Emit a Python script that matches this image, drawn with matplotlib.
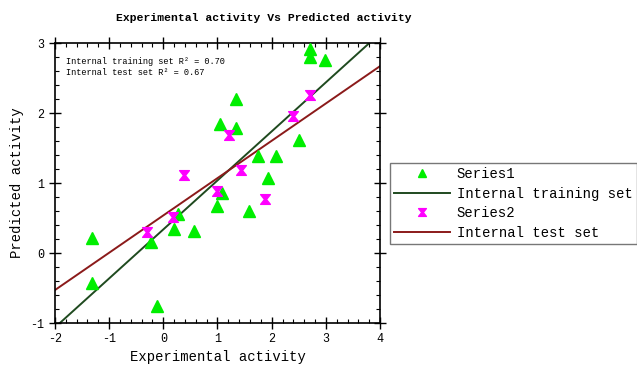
import matplotlib
matplotlib.use("Agg")
import matplotlib.pyplot as plt
import numpy as np
from matplotlib.path import Path
from matplotlib.ticker import MultipleLocator

# Data
series1_x = [2.71, 2.71, 2.98, 1.335, 1.05, 1.35, 2.51, 1.74, 2.08, 1.94,
             1.08, 0.99, 1.59, 0.28, 0.19, 0.57, -0.22, -1.32, -1.32, -0.12]
series1_y = [2.91, 2.80, 2.76, 2.20, 1.84, 1.79, 1.61, 1.38, 1.38, 1.07,
             0.86, 0.67, 0.60, 0.56, 0.35, 0.32, 0.16, 0.21, -0.43, -0.75]
series2_x = [2.70, 2.39, 1.21, 1.43, 0.39, 1.00, 1.88, 0.17, -0.30]
series2_y = [2.26, 1.96, 1.68, 1.19, 1.12, 0.89, 0.77, 0.51, 0.30]
train_fit = [0.700, 0.337]   # slope, intercept
test_fit = [0.533, 0.537]
line_x = [-2, 4]
r2_train = "0.70"
r2_test = "0.67"

plt.rcParams['font.family'] = ['Liberation Mono', 'DejaVu Sans Mono']
plt.rcParams['axes.unicode_minus'] = False

fig = plt.figure(figsize=(6.37, 3.70), dpi=100)
ax = fig.add_axes([55/637, 1-323/370, (380-55)/637, (323-43)/370])

hourglass = Path([(-1, 1), (1, 1), (0.2, 0), (1, -1), (-1, -1), (-0.2, 0), (-1, 1)],
                 [Path.MOVETO] + [Path.LINETO]*5 + [Path.CLOSEPOLY])

lx = np.array(line_x, dtype=float)
ax.plot(series1_x, series1_y, linestyle='none', marker='^', color='#00ee00',
        markersize=8, label='Series1', zorder=3)
ax.plot(lx, train_fit[0]*lx + train_fit[1], color='#1f4a1f', lw=1.4,
        label='Internal training set', zorder=2)
ax.plot(series2_x, series2_y, linestyle='none', marker=hourglass, color='#ff00ff',
        markersize=7, label='Series2', zorder=3)
ax.plot(lx, test_fit[0]*lx + test_fit[1], color='#8b1a1a', lw=1.4,
        label='Internal test set', zorder=2)

ax.set_xlim(-2, 4)
ax.set_ylim(-1, 3)
ax.xaxis.set_major_locator(MultipleLocator(1))
ax.yaxis.set_major_locator(MultipleLocator(1))
ax.xaxis.set_minor_locator(MultipleLocator(0.2))
ax.yaxis.set_minor_locator(MultipleLocator(0.2))
ax.tick_params(which='major', direction='inout', length=8, width=1,
               top=True, right=True, labelsize=8.5)
ax.tick_params(which='minor', direction='in', length=3, width=0.8,
               top=True, right=True)
for s in ax.spines.values():
    s.set_linewidth(1.2)

ax.text(0.035, 0.935, f"Internal training set R\u00b2 = {r2_train}",
        transform=ax.transAxes, fontsize=6.2, va='center')
ax.text(0.035, 0.895, f"Internal test set R\u00b2 = {r2_test}",
        transform=ax.transAxes, fontsize=6.2, va='center')

ax.set_xlabel("Experimental activity", fontsize=10, labelpad=3)
ax.set_ylabel("Predicted activity", fontsize=10, labelpad=5)
fig.text(264/637, 1-18/370, "Experimental activity Vs Predicted activity",
         ha='center', va='center', fontsize=8.2, fontweight='bold')

leg = ax.legend(loc='upper left', bbox_to_anchor=(390/637, 1-163/370),
                bbox_transform=fig.transFigure, fontsize=10, frameon=True,
                fancybox=False, edgecolor='#555555', borderpad=0.3,
                labelspacing=0.4, handlelength=4, handletextpad=0.5,
                borderaxespad=0, markerscale=0.8)
leg.get_frame().set_linewidth(1.0)

fig.savefig("out.png", dpi=100)
